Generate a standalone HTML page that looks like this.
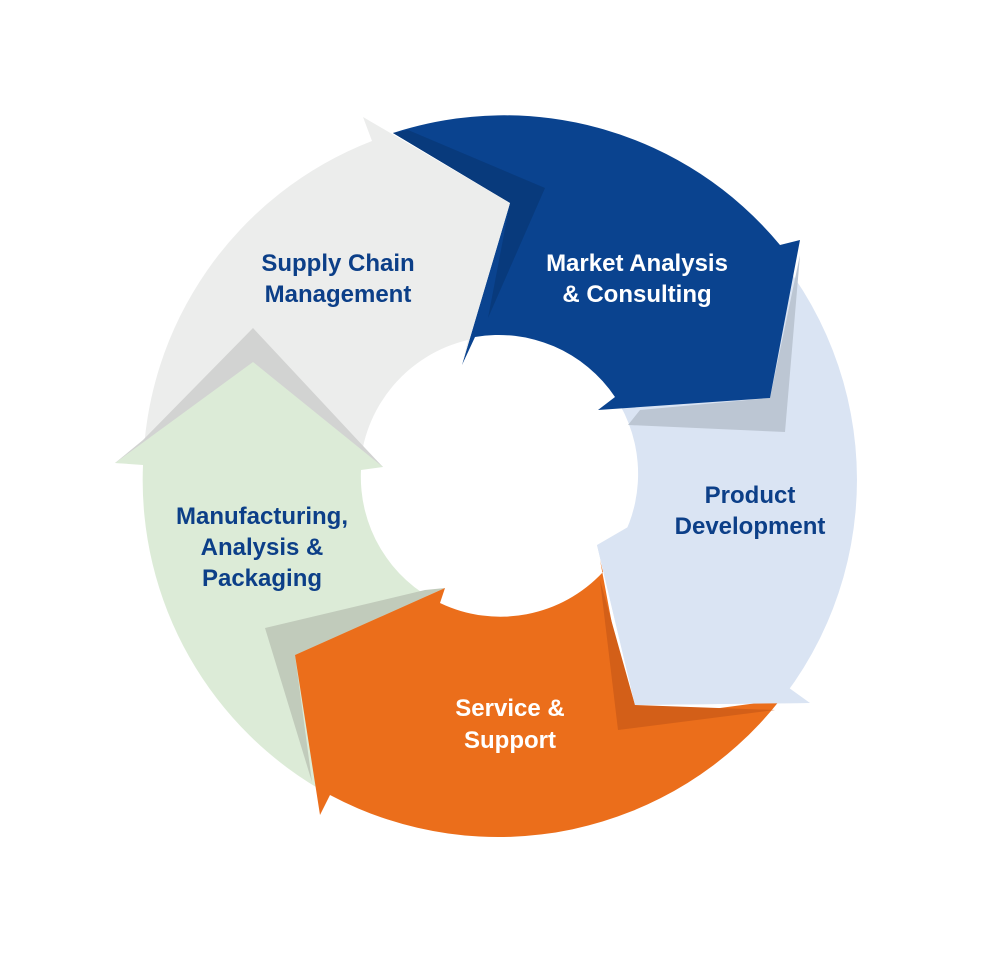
<!DOCTYPE html>
<html><head><meta charset="utf-8"><style>
html,body{margin:0;padding:0;background:#fff;}
svg{display:block;}
text{font-family:"Liberation Sans",sans-serif;font-size:24px;font-weight:bold;text-anchor:middle;}
</style></head><body>
<svg width="997" height="964" viewBox="0 0 997 964" xmlns="http://www.w3.org/2000/svg">
<!-- light blue -->
<path d="M740,215 A358,358 0 0 1 785,695 L810,703 L635,705 L597,545 L610,558 A140,140 0 0 0 620,405 Z" fill="#dae4f3"/>
<!-- blue shadow on light blue -->
<polygon points="800,255 785,432 628,425 640,410 770,398" fill="#bcc6d3"/>
<!-- blue -->
<path d="M393,133 A358,358 0 0 1 780,245 L800,240 L770,398 L598,410 L615,397 A140,140 0 0 0 475,337 L462,365 L510,203 Z" fill="#0a438f"/>
<!-- grey shadow on blue -->
<polygon points="393,133 408,130 545,188 488,318 510,203" fill="#083a7c"/>
<!-- grey -->
<path d="M143,470 A358,358 0 0 1 372,141 L363,117 L510,203 L462,365 L468,340 A140,140 0 0 0 360,470 Z" fill="#ecedec"/>
<!-- green shadow on grey -->
<polygon points="143,440 253,328 365,448 383,467 115,463" fill="#d2d3d2"/>
<!-- green -->
<path d="M330,795 A358,358 0 0 1 143,465 L115,463 L253,362 L383,467 L361,470 A140,140 0 0 0 440,603 Z" fill="#dcebd7"/>
<!-- orange shadow on green -->
<polygon points="265,628 425,590 445,588 295,655 312,782" fill="#c1cbbb"/>
<!-- orange -->
<path d="M600,560 L630,720 L780,700 A358,358 0 0 1 330,795 L320,815 L295,655 L445,588 L440,603 A140,140 0 0 0 603,572 Z" fill="#eb6e1b"/>
<!-- light blue shadow on orange -->
<polygon points="600,580 618,730 775,710 635,705" fill="#d35f18"/>
<!-- light blue head redraw -->
<polygon points="597,545 635,705 810,703 785,685 800,640 805,560 640,520" fill="#dae4f3"/>
<text x="338" y="271" fill="#0c3f88">Supply Chain</text>
<text x="338" y="302" fill="#0c3f88">Management</text>
<text x="637" y="271" fill="#ffffff">Market Analysis</text>
<text x="637" y="302" fill="#ffffff">&amp; Consulting</text>
<text x="750" y="503" fill="#0c3f88">Product</text>
<text x="750" y="534" fill="#0c3f88">Development</text>
<text x="510" y="716" fill="#ffffff">Service &amp;</text>
<text x="510" y="748" fill="#ffffff">Support</text>
<text x="262" y="524" fill="#0c3f88">Manufacturing,</text>
<text x="262" y="555" fill="#0c3f88">Analysis &amp;</text>
<text x="262" y="586" fill="#0c3f88">Packaging</text>
</svg>
</body></html>
